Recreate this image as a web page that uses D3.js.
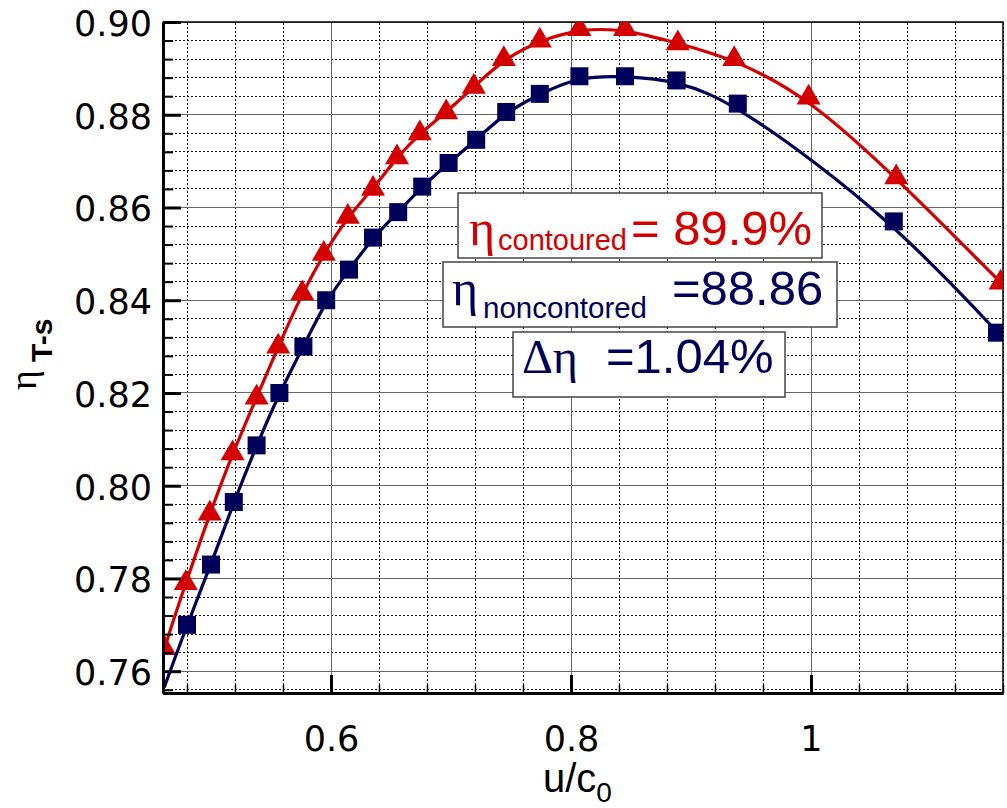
<!DOCTYPE html>
<html>
<head>
  <meta charset="utf-8">
  <title>Efficiency vs u/c0</title>
  <script src="https://d3js.org/d3.v7.min.js"></script>
  <style>
    body { margin: 0; background: #fff; }
    svg { display: block; background: #fff; }
    .axis .tick text { font-family: "DejaVu Sans", sans-serif; font-size: 35px; fill: #000; }
    .axis .domain { stroke: #000; stroke-width: 3; }
    .axis .tick line { stroke: #000; }
    .grid-minor line { stroke: #111; stroke-width: 1; stroke-dasharray: 2,2; }
    .grid-major line { stroke: #666; stroke-width: 1; }
    .legend rect { fill: #fff; stroke: #444; stroke-width: 1.5; }
    .sans { font-family: "Liberation Sans", Arial, sans-serif; }
    .serif { font-family: "Liberation Serif", "Times New Roman", serif; }
  </style>
</head>
<body>
<div id="chart"></div>
<script>

const width = 1007;
const height = 808;
const margin = {top: 22, right: 4, bottom: 115, left: 163};

// contoured nozzle (red triangles)
const redX = [0.461, 0.479, 0.499, 0.518, 0.538, 0.556, 0.576, 0.594, 0.614, 0.635, 0.655, 0.674,
              0.696, 0.719, 0.744, 0.774, 0.807, 0.845, 0.889, 0.936, 0.998, 1.071, 1.158];
const redY = [0.765, 0.779, 0.794, 0.807, 0.819, 0.830, 0.8415, 0.850, 0.858, 0.864, 0.8708, 0.876,
              0.8805, 0.886, 0.892, 0.896, 0.8985, 0.8985, 0.8954, 0.892, 0.8837, 0.8665, 0.8438];

// non-contoured nozzle (navy squares)
const blueX = [0.480, 0.500, 0.519, 0.538, 0.557, 0.577, 0.596, 0.615, 0.635, 0.656, 0.676,
               0.698, 0.721, 0.746, 0.774, 0.807, 0.845, 0.888, 0.939, 1.069, 1.155];
const blueY = [0.770, 0.783, 0.7965, 0.8087, 0.820, 0.830, 0.840, 0.8466, 0.8535, 0.859, 0.8645,
               0.8696, 0.8746, 0.8806, 0.8845, 0.8883, 0.8883, 0.8874, 0.8824, 0.857, 0.833];

// where the fitted lines leave the frame
const redLineEnds = [[0.4605, 0.7635], [1.16, 0.8434]];
const blueLineEnds = [[0.461, 0.7565], [1.16, 0.8322]];

// tick labels
const xTicks = [0.6, 0.8, 1.0];
const xTickLabels = ["0.6", "0.8", "1"];
const yTicks = [0.76, 0.78, 0.80, 0.82, 0.84, 0.86, 0.88, 0.90];
const yTickLabels = ["0.76", "0.78", "0.80", "0.82", "0.84", "0.86", "0.88", "0.90"];

const red = "#d40000";
const navy = "#00005a";

const x = d3.scaleLinear().domain([0.46, 1.16]).range([margin.left, width - margin.right]);
const y = d3.scaleLinear().domain([0.7553, 0.90]).range([height - margin.bottom, margin.top]);

// minor steps: 0.04 in x, 0.004 in y
const xMinor = d3.range(12, 30).filter(i => i % 5 !== 0).map(i => i * 0.04);
const yMinor = d3.range(189, 226).filter(i => i % 5 !== 0).map(i => i * 0.004);

const svg = d3.select("#chart").append("svg")
    .attr("width", width)
    .attr("height", height);

svg.append("defs").append("clipPath").attr("id", "plot-clip")
  .append("rect")
    .attr("x", margin.left).attr("y", margin.top)
    .attr("width", width - margin.left - margin.right)
    .attr("height", height - margin.top - margin.bottom);

// grid
const gMinor = svg.append("g").attr("class", "grid-minor").attr("shape-rendering", "crispEdges");
gMinor.selectAll(".vx").data(xMinor).join("line").attr("class", "vx")
    .attr("x1", d => x(d)).attr("x2", d => x(d))
    .attr("y1", y.range()[0]).attr("y2", y.range()[1]);
gMinor.selectAll(".hy").data(yMinor).join("line").attr("class", "hy")
    .attr("y1", d => y(d)).attr("y2", d => y(d))
    .attr("x1", x.range()[0]).attr("x2", x.range()[1]);

const gMajor = svg.append("g").attr("class", "grid-major").attr("shape-rendering", "crispEdges");
gMajor.selectAll(".vx").data(xTicks).join("line").attr("class", "vx")
    .attr("x1", d => x(d)).attr("x2", d => x(d))
    .attr("y1", y.range()[0]).attr("y2", y.range()[1]);
gMajor.selectAll(".hy").data(yTicks).join("line").attr("class", "hy")
    .attr("y1", d => y(d)).attr("y2", d => y(d))
    .attr("x1", x.range()[0]).attr("x2", x.range()[1]);

// frame top / right
svg.append("path")
    .attr("d", `M${x.range()[0]},${y.range()[1]}H${x.range()[1]}V${y.range()[0]}`)
    .attr("fill", "none").attr("stroke", "#000").attr("stroke-width", 1.5);

// legend boxes
const legend = svg.append("g").attr("class", "legend");
legend.append("rect").attr("x", 458).attr("y", 193).attr("width", 364).attr("height", 65);
legend.append("rect").attr("x", 443).attr("y", 262).attr("width", 394).attr("height", 65);
legend.append("rect").attr("x", 513).attr("y", 332).attr("width", 272).attr("height", 65);

const t1 = legend.append("text").attr("fill", red);
t1.append("tspan").attr("class", "serif").attr("x", 469).attr("y", 245).style("font-size", "50px").text("η");
t1.append("tspan").attr("class", "sans").attr("x", 498).attr("y", 250).style("font-size", "29px").text("contoured");
t1.append("tspan").attr("class", "sans").attr("x", 631).attr("y", 245).style("font-size", "49px").text("= 89.9%");

const t2 = legend.append("text").attr("fill", navy);
t2.append("tspan").attr("class", "serif").attr("x", 452).attr("y", 305).style("font-size", "50px").text("η");
t2.append("tspan").attr("class", "sans").attr("x", 483).attr("y", 318).style("font-size", "29.5px").text("noncontored");
t2.append("tspan").attr("class", "sans").attr("x", 672).attr("y", 305).style("font-size", "49px").text("=88.86");

const t3 = legend.append("text").attr("fill", navy);
t3.append("tspan").attr("class", "serif").attr("x", 522).attr("y", 373).style("font-size", "48px").text("Δη");
t3.append("tspan").attr("class", "sans").attr("x", 606).attr("y", 373).style("font-size", "49px").text("=1.04%");

// curves (smoothed, like the fitted lines of the original)
const line = d3.line().x(d => x(d[0])).y(d => y(d[1])).curve(d3.curveBasis);
const redPts = d3.zip(redX, redY);
const bluePts = d3.zip(blueX, blueY);

const plot = svg.append("g").attr("clip-path", "url(#plot-clip)");

plot.append("path")
    .datum([redLineEnds[0], ...redPts, redLineEnds[1]])
    .attr("fill", "none").attr("stroke", red).attr("stroke-width", 3.2)
    .attr("d", line);
plot.selectAll(".tri").data(redPts).join("path").attr("class", "tri")
    .attr("transform", d => `translate(${x(d[0])},${y(d[1])})`)
    .attr("d", d3.symbol().type(d3.symbolTriangle).size(250))
    .attr("fill", red);

plot.append("path")
    .datum([blueLineEnds[0], ...bluePts, blueLineEnds[1]])
    .attr("fill", "none").attr("stroke", navy).attr("stroke-width", 3.2)
    .attr("d", line);
plot.selectAll(".sq").data(bluePts).join("path").attr("class", "sq")
    .attr("transform", d => `translate(${x(d[0])},${y(d[1])})`)
    .attr("d", d3.symbol().type(d3.symbolSquare).size(324))
    .attr("fill", navy);

// axes
const xAxis = svg.append("g").attr("class", "axis")
    .attr("transform", `translate(0,${y.range()[0]})`);
xAxis.call(d3.axisBottom(x).tickValues(xMinor).tickSize(-8).tickSizeOuter(0).tickFormat(""))
    .selectAll(".tick line").attr("stroke-width", 1.5);
const xMajorAxis = svg.append("g").attr("class", "axis")
    .attr("transform", `translate(0,${y.range()[0]})`)
    .call(d3.axisBottom(x).tickValues(xTicks).tickSize(-18).tickSizeOuter(0).tickPadding(33)
      .tickFormat((d, i) => xTickLabels[i]));
xMajorAxis.selectAll(".tick line").attr("stroke-width", 3);

const yAxis = svg.append("g").attr("class", "axis")
    .attr("transform", `translate(${x.range()[0]},0)`);
yAxis.call(d3.axisLeft(y).tickValues(yMinor).tickSize(-10).tickSizeOuter(0).tickFormat(""))
    .selectAll(".tick line").attr("stroke-width", 2);
const yMajorAxis = svg.append("g").attr("class", "axis")
    .attr("transform", `translate(${x.range()[0]},0)`)
    .call(d3.axisLeft(y).tickValues(yTicks).tickSize(-18).tickSizeOuter(0).tickPadding(11)
      .tickFormat((d, i) => yTickLabels[i]));
yMajorAxis.selectAll(".tick line").attr("stroke-width", 3);
yMajorAxis.selectAll(".tick text").attr("dy", "0.38em");

// axis titles
const xt = svg.append("text").attr("class", "sans").attr("x", 543).attr("y", 792).attr("fill", "#000");
xt.append("tspan").style("font-size", "40px").text("u/c");
xt.append("tspan").attr("y", 802).style("font-size", "28px").text("0");

svg.append("text").attr("class", "serif")
    .attr("transform", "translate(36,390) rotate(-90)")
    .style("font-size", "38px").text("η");
svg.append("text").attr("class", "sans")
    .attr("transform", "translate(52,362) rotate(-90)")
    .style("font-size", "30px").style("font-weight", "bold").text("T-s");

</script>
</body>
</html>
